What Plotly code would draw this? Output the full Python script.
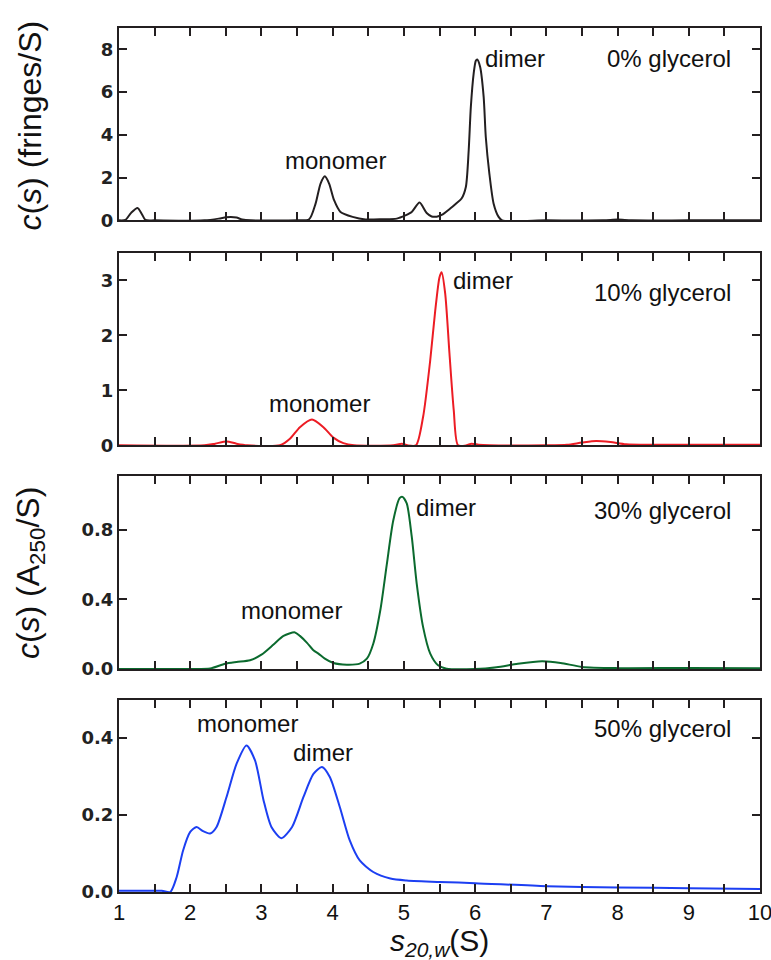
import plotly.graph_objects as go

# ---------------- data ----------------
s_0 = [1.0, 1.09, 1.17, 1.26, 1.32, 1.37, 1.5, 2.2, 2.4, 2.5, 2.57, 2.65, 2.73, 2.85, 3.5,
       3.67, 3.76, 3.83, 3.89, 3.95, 4.02, 4.11, 4.28, 4.46, 4.7, 4.9, 5.02, 5.11, 5.22,
       5.32, 5.39, 5.46, 5.53, 5.65, 5.73, 5.81, 5.87, 5.91, 5.94, 5.98, 6.01, 6.03, 6.07,
       6.12, 6.15, 6.20, 6.26, 6.33, 6.38, 7.0, 7.8, 8.0, 8.2, 9.0, 10.0]
c_0 = [0, 0.02, 0.35, 0.58, 0.3, 0.02, 0, 0, 0.08, 0.14, 0.16, 0.13, 0.04, 0, 0,
       0.05, 0.78, 1.72, 2.06, 1.72, 0.94, 0.39, 0.16, 0.04, 0.05, 0.08, 0.23, 0.39, 0.83,
       0.34, 0.18, 0.17, 0.25, 0.55, 0.78, 1.02, 1.56, 3.28, 5.31, 6.88, 7.47, 7.53, 7.19,
       5.78, 3.9, 2.19, 0.78, 0.16, 0, 0, 0, 0.04, 0, 0, 0]

s_10 = [1.0, 2.2, 2.35, 2.51, 2.65, 2.8, 3.26, 3.40, 3.54, 3.71, 3.87, 4.01, 4.15, 4.3,
        4.85, 4.97, 5.05, 5.17, 5.27, 5.37, 5.44, 5.50, 5.53, 5.58, 5.64, 5.70, 5.76,
        5.88, 5.95, 6.05, 6.2, 7.0, 7.29, 7.5, 7.70, 7.9, 8.12, 8.5, 10.0]
c_10 = [0, 0, 0.03, 0.07, 0.03, 0, 0, 0.12, 0.33, 0.47, 0.33, 0.14, 0.04, 0,
        0, 0.03, 0, 0, 0.52, 1.55, 2.45, 3.06, 3.15, 2.76, 1.67, 0.64, 0,
        0, 0.03, 0.01, 0, 0, 0.01, 0.05, 0.08, 0.06, 0.02, 0.01, 0.01]

s_30 = [1.0, 2.0, 2.28, 2.49, 2.65, 2.84, 3.0, 3.17, 3.31, 3.47, 3.54, 3.64, 3.73, 3.80,
        3.89, 4.01, 4.20, 4.38, 4.48, 4.57, 4.67, 4.76, 4.85, 4.94, 4.98, 5.04, 5.11,
        5.18, 5.27, 5.37, 5.48, 5.60, 6.0, 6.3, 6.6, 6.94, 7.2, 7.5, 8.0, 9.0, 10.0]
c_30 = [0, 0, 0.003, 0.03, 0.04, 0.05, 0.082, 0.14, 0.19, 0.21, 0.19, 0.15, 0.107, 0.088,
        0.059, 0.034, 0.025, 0.031, 0.059, 0.145, 0.34, 0.60, 0.85, 0.98, 0.987, 0.95, 0.76,
        0.49, 0.24, 0.088, 0.021, 0.002, 0.0, 0.01, 0.03, 0.044, 0.035, 0.012, 0.005, 0.006, 0.004]

s_50 = [1.0, 1.6, 1.72, 1.81, 1.90, 2.0, 2.09, 2.18, 2.28, 2.37, 2.51, 2.65, 2.79, 2.91,
        3.03, 3.14, 3.28, 3.43, 3.59, 3.73, 3.85, 3.96, 4.10, 4.24, 4.38, 4.57, 4.81,
        5.04, 5.5, 6.0, 7.0, 8.0, 9.0, 10.0]
c_50 = [0.003, 0.003, 0.0, 0.039, 0.108, 0.156, 0.169, 0.158, 0.152, 0.169, 0.247, 0.333, 0.381, 0.342,
        0.238, 0.169, 0.140, 0.169, 0.247, 0.307, 0.325, 0.299, 0.221, 0.134, 0.082, 0.052, 0.035,
        0.030, 0.026, 0.023, 0.015, 0.012, 0.010, 0.008]

x_tick_vals = [1, 1.5, 2, 2.5, 3, 3.5, 4, 4.5, 5, 5.5, 6, 6.5, 7, 7.5, 8, 8.5, 9, 9.5, 10]
x_tick_text = ["1", "", "2", "", "3", "", "4", "", "5", "", "6", "", "7", "", "8", "", "9", "", "10"]

y_ticks_0 = [0, 2, 4, 6, 8]
y_ticks_10 = [0, 1, 2, 3]
y_ticks_30 = [0.0, 0.4, 0.8]
y_ticks_30_text = ["0.0", "0.4", "0.8"]
y_ticks_50 = [0.0, 0.2, 0.4]
y_ticks_50_text = ["0.0", "0.2", "0.4"]

panel_labels = ["0% glycerol", "10% glycerol", "30% glycerol", "50% glycerol"]

# ---------------- figure ----------------
FONT = "Liberation Sans, Arial, Helvetica, sans-serif"
TICKFONT = "DejaVu Sans, Arial, sans-serif"
AX = "#231f20"

series = [(s_0, c_0, "#231f20"), (s_10, c_10, "#ec1c24"),
          (s_30, c_30, "#0b6a2e"), (s_50, c_50, "#1c3ff2")]
domains = [[0.7774, 1.0], [0.517, 0.7396], [0.2581, 0.4811], [0.0, 0.2227]]
yranges = [[0, 9], [0, 3.5], [0, 1.105], [0, 0.5]]
yticks = [(y_ticks_0, [str(v) for v in y_ticks_0]),
          (y_ticks_10, [str(v) for v in y_ticks_10]),
          (y_ticks_30, y_ticks_30_text),
          (y_ticks_50, y_ticks_50_text)]

fig = go.Figure()
layout = {}
for i, (s, c, col) in enumerate(series):
    n = "" if i == 0 else str(i + 1)
    fig.add_trace(go.Scatter(x=s, y=c, mode="lines",
                             line=dict(color=col, width=2, shape="spline", smoothing=0.7),
                             xaxis="x" + n, yaxis="y" + n, showlegend=False,
                             hoverinfo="skip"))
    common = dict(showline=True, linecolor=AX, linewidth=2, mirror="ticks",
                  ticks="inside", ticklen=8, tickwidth=1.5, tickcolor=AX,
                  showgrid=False, zeroline=False, fixedrange=True, automargin=False)
    layout["xaxis" + n] = dict(domain=[0, 1], anchor="y" + n, range=[1, 10],
                               tickmode="array", tickvals=x_tick_vals, ticktext=x_tick_text,
                               showticklabels=(i == 3), ticklabeloverflow="allow",
                               tickfont=dict(family=FONT, size=22, color="#111"),
                               **common)
    tv, tt = yticks[i]
    layout["yaxis" + n] = dict(domain=domains[i], anchor="x" + n, range=yranges[i],
                               tickmode="array", tickvals=tv, ticktext=tt,
                               tickfont=dict(family=TICKFONT, size=18, color="#222", weight="bold"),
                               **common)

fig.update_layout(width=771, height=960, autosize=False,
                  paper_bgcolor="white", plot_bgcolor="white",
                  margin=dict(l=119, r=11, t=28, b=68, autoexpand=False), **layout)

ann_font = dict(family=FONT, size=24, color="#111")
anns = [
    # panel 1
    ("x", "y", 6.56, 7.59, "dimer", "center"),
    ("x", "y", 9.62, 7.59, panel_labels[0], "right"),
    ("x", "y", 4.04, 2.81, "monomer", "center"),
    # panel 2
    ("x2", "y2", 6.11, 3.0, "dimer", "center"),
    ("x2", "y2", 9.62, 2.78, panel_labels[1], "right"),
    ("x2", "y2", 3.82, 0.76, "monomer", "center"),
    # panel 3
    ("x3", "y3", 5.59, 0.928, "dimer", "center"),
    ("x3", "y3", 9.62, 0.911, panel_labels[2], "right"),
    ("x3", "y3", 3.42, 0.337, "monomer", "center"),
    # panel 4
    ("x4", "y4", 2.81, 0.438, "monomer", "center"),
    ("x4", "y4", 3.87, 0.363, "dimer", "center"),
    ("x4", "y4", 9.62, 0.425, panel_labels[3], "right"),
]
for xr, yr, x, y, t, xa in anns:
    fig.add_annotation(xref=xr, yref=yr, x=x, y=y, text=t, showarrow=False,
                       xanchor=xa, yanchor="middle", font=ann_font)

# axis titles
fig.add_annotation(xref="paper", yref="paper", x=-0.139, y=0.887,
                   text="<i>c</i>(<i>s</i>) (fringes/S)", textangle=-90, showarrow=False,
                   xanchor="center", yanchor="middle",
                   font=dict(family=FONT, size=32, color="#111"))
fig.add_annotation(xref="paper", yref="paper", x=-0.139, y=0.369,
                   text="<i>c</i>(<i>s</i>) (A<sub>250</sub>/S)", textangle=-90, showarrow=False,
                   xanchor="center", yanchor="middle",
                   font=dict(family=FONT, size=32, color="#111"))
fig.add_annotation(xref="paper", yref="paper", x=0.5, y=-0.059,
                   text="<i>s</i><sub><i>20,w</i></sub>(S)", showarrow=False,
                   xanchor="center", yanchor="middle",
                   font=dict(family=FONT, size=30, color="#111"))

fig.write_html("out.html",
               config={"responsive": False, "displayModeBar": False},
               post_script="document.body.style.margin='0';document.body.style.overflow='hidden';")
